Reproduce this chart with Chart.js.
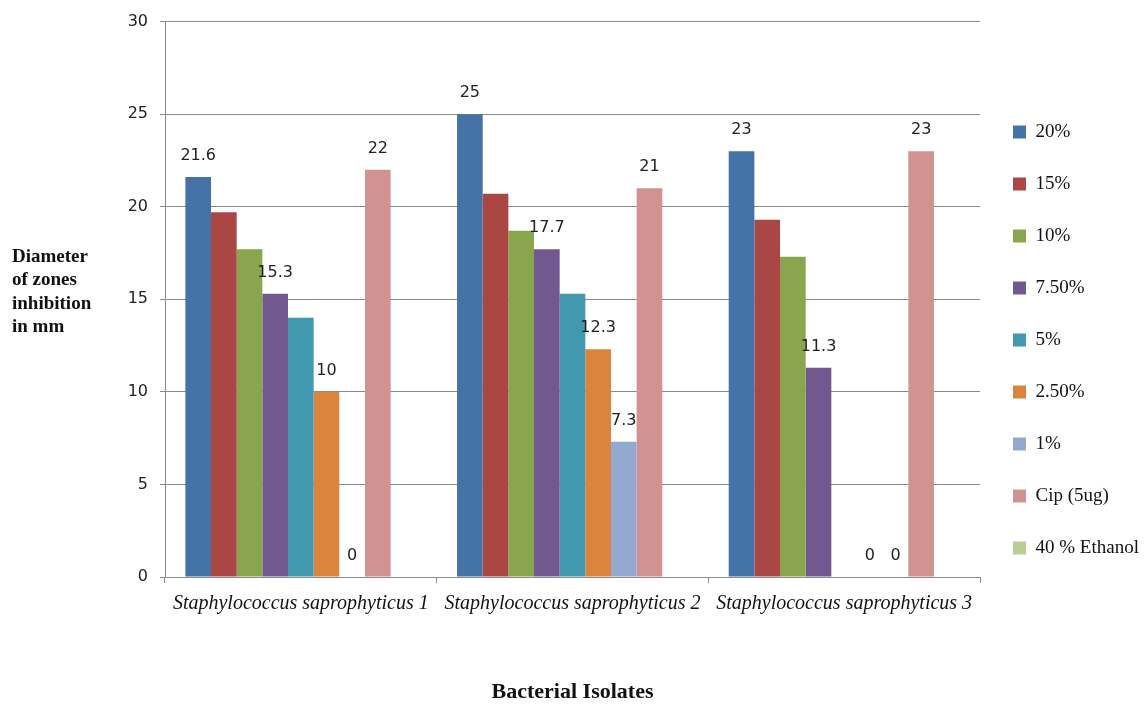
<!DOCTYPE html>
<html>
<head>
<meta charset="utf-8">
<title>Bacterial Isolates</title>
<script src="https://cdn.jsdelivr.net/npm/chart.js@4.4.1/dist/chart.umd.min.js"></script>
<style>
  body { margin: 0; background: #fff; }
  #wrap { width: 1146px; height: 704px; position: relative; }
</style>
</head>
<body>
<div id="wrap"><canvas id="graph1"></canvas></div>
<script>
// isolates on the x axis
const categories = [
  'Staphylococcus saprophyticus 1',
  'Staphylococcus saprophyticus 2',
  'Staphylococcus saprophyticus 3'
];

// zone diameters (mm) per extract concentration / control
const conc20 = [21.6, 25, 23];
const conc15 = [19.7, 20.7, 19.3];
const conc10 = [17.7, 18.7, 17.3];
const conc7_5 = [15.3, 17.7, 11.3];
const conc5 = [14, 15.3, 0];
const conc2_5 = [10, 12.3, 0];
const conc1 = [0, 7.3, 0];
const cip5ug = [22, 21, 23];
const ethanol40 = [0, 0, 0];

const seriesNames = ['20%', '15%', '10%', '7.50%', '5%', '2.50%', '1%', 'Cip (5ug)', '40 % Ethanol'];
const seriesValues = [conc20, conc15, conc10, conc7_5, conc5, conc2_5, conc1, cip5ug, ethanol40];
const seriesColors = ['#4572A7', '#AA4643', '#89A54E', '#71588F', '#4198AF', '#DB843D', '#93A9CF', '#D19392', '#B9CD96'];

// series that carry a value label above each bar
const labelledSeries = ['20%', '7.50%', '2.50%', '1%', 'Cip (5ug)'];

const yTicks = { min: 0, max: 30, step: 5 };
const yTitleLines = ['Diameter', 'of zones', 'inhibition', 'in mm'];

const valueLabels = {
  id: 'valueLabels',
  afterDatasetsDraw(chart) {
    const ctx = chart.ctx;
    ctx.save();
    ctx.font = '16px "DejaVu Sans"';
    ctx.fillStyle = '#222';
    ctx.textAlign = 'center';
    ctx.textBaseline = 'middle';
    chart.data.datasets.forEach((ds, i) => {
      if (!labelledSeries.includes(ds.label)) return;
      chart.getDatasetMeta(i).data.forEach((bar, j) => {
        ctx.fillText(String(ds.data[j]), bar.x, bar.y - 21);
      });
    });
    ctx.restore();
  }
};

// horizontal, stacked y axis caption on the left
const yCaption = {
  id: 'yCaption',
  afterDraw(chart) {
    const ctx = chart.ctx;
    ctx.save();
    ctx.font = 'bold 19px "Liberation Serif"';
    ctx.fillStyle = '#111';
    ctx.textAlign = 'left';
    ctx.textBaseline = 'middle';
    yTitleLines.forEach((line, i) => ctx.fillText(line, 12, 257 + i * 23.3));
    ctx.restore();
  }
};

const gridColor = '#8a8a8a';

new Chart('graph1', {
  type: 'bar',
  data: {
    labels: categories,
    datasets: seriesNames.map((name, i) => ({
      label: name,
      data: seriesValues[i],
      backgroundColor: seriesColors[i],
      borderWidth: 0,
      categoryPercentage: 0.85,
      barPercentage: 1
    }))
  },
  options: {
    responsive: true,
    maintainAspectRatio: false,
    animation: false,
    layout: { padding: { top: 20, bottom: 44, left: 0, right: 0 } },
    plugins: {
      tooltip: { enabled: false },
      legend: {
        position: 'right',
        maxWidth: 166,
        labels: {
          boxWidth: 13,
          boxHeight: 13,
          padding: 33,
          color: '#111',
          font: { family: 'Liberation Serif', size: 19, lineHeight: 1 }
        }
      }
    },
    scales: {
      x: {
        afterFit: scale => { scale.height = 83; },
        grid: { offset: true, drawOnChartArea: false, tickLength: 6, color: gridColor },
        border: { color: gridColor },
        ticks: {
          autoSkip: false,
          maxRotation: 0,
          minRotation: 0,
          padding: 9,
          color: '#111',
          font: { family: 'Liberation Serif', size: 20, style: 'italic' }
        },
        title: {
          display: true,
          text: 'Bacterial Isolates',
          color: '#111',
          font: { family: 'Liberation Serif', size: 22, weight: 'bold' },
          padding: { top: 0, bottom: -46 }
        }
      },
      y: {
        min: yTicks.min,
        max: yTicks.max,
        afterFit: scale => { scale.width = 165; },
        grid: { color: gridColor, tickLength: 5 },
        border: { color: gridColor },
        ticks: {
          stepSize: yTicks.step,
          padding: 12,
          color: '#222',
          font: { family: 'DejaVu Sans', size: 16 }
        }
      }
    }
  },
  plugins: [valueLabels, yCaption]
});
</script>
</body>
</html>
